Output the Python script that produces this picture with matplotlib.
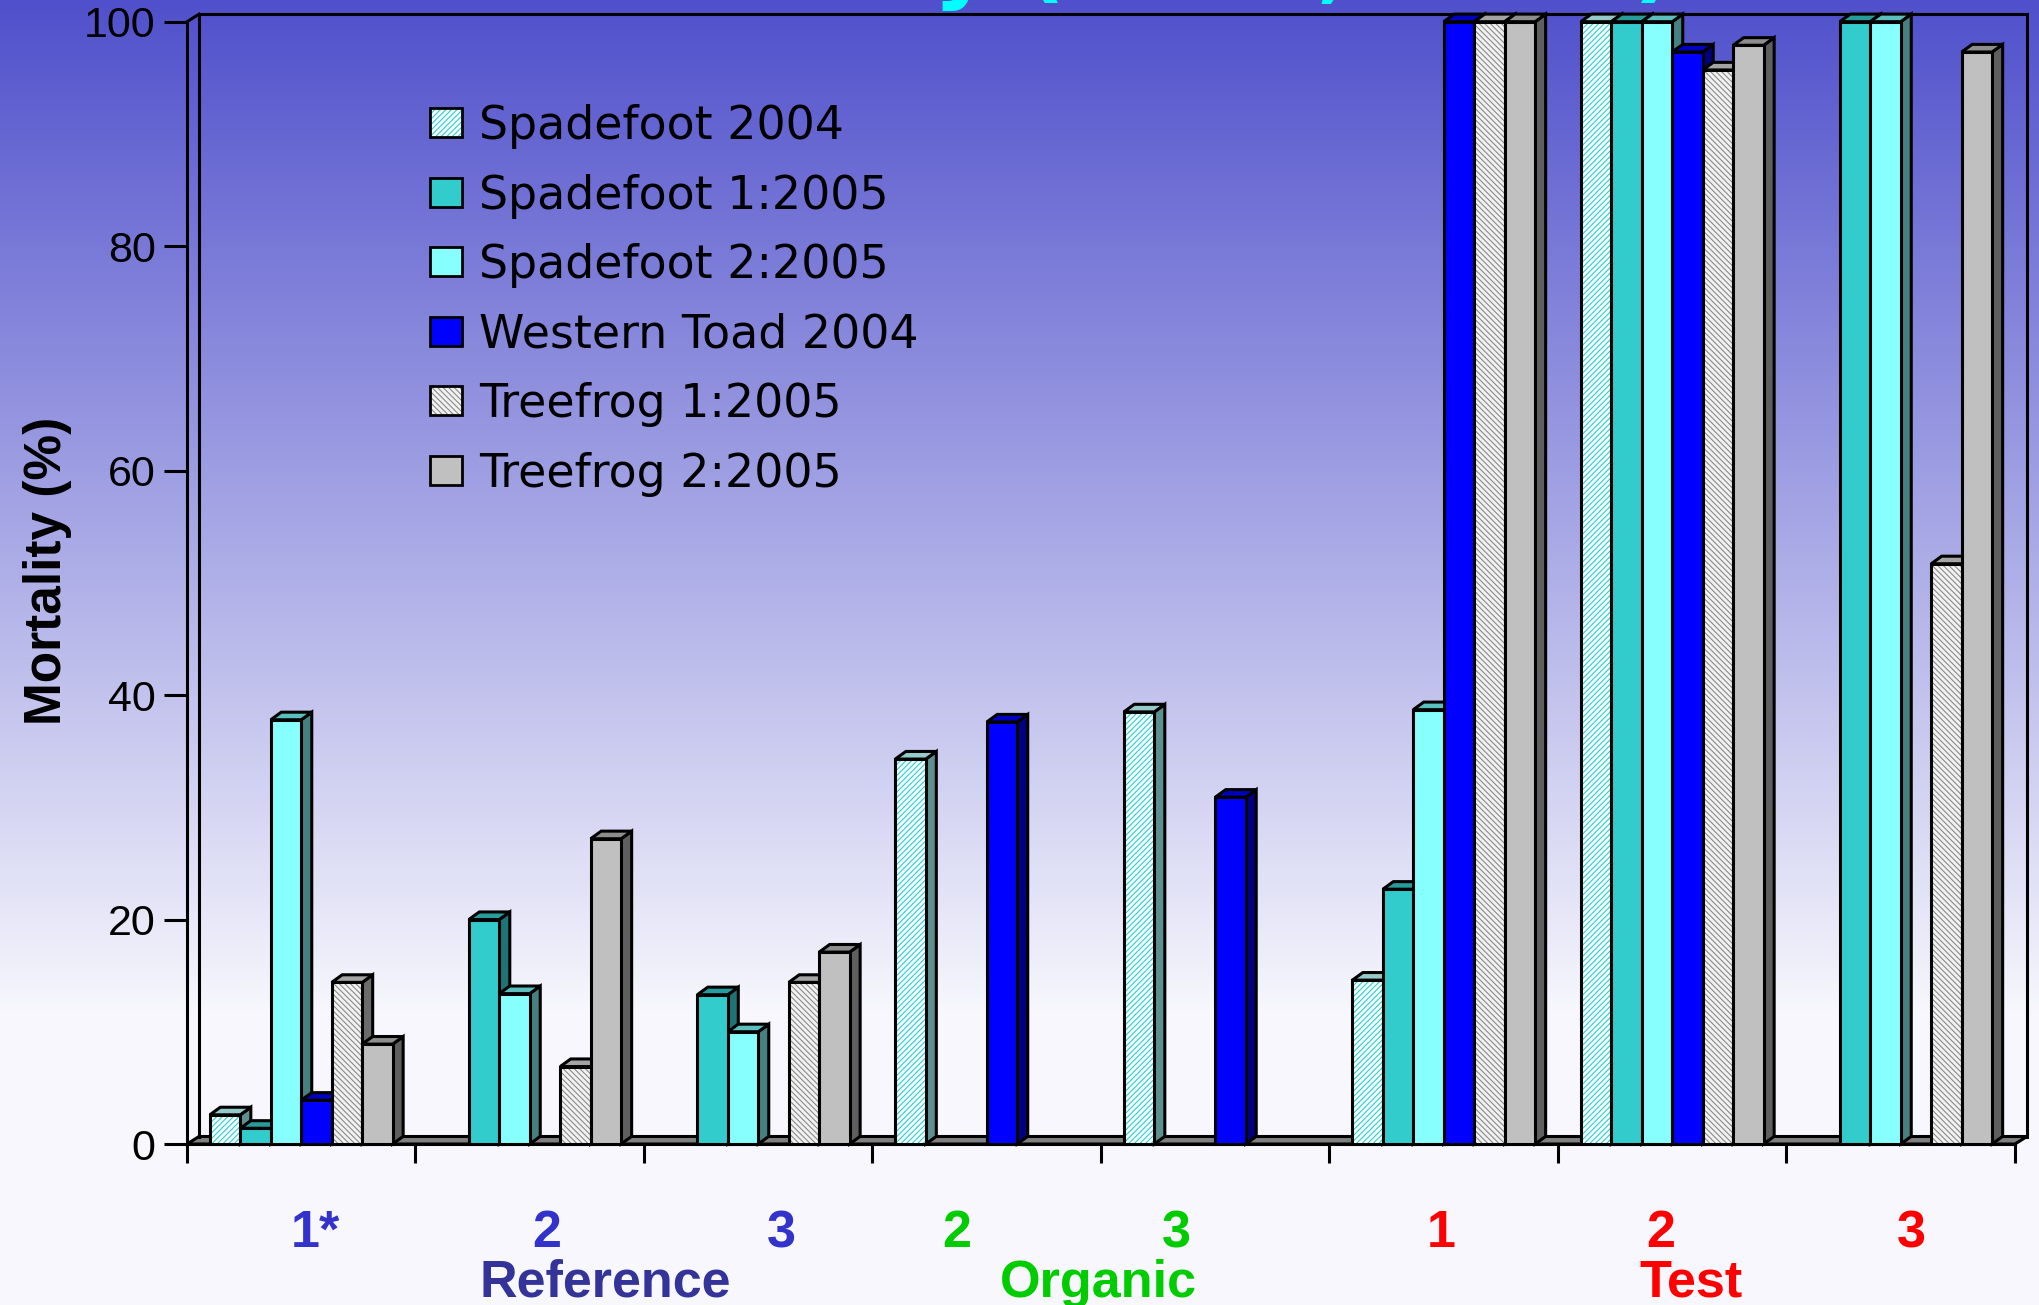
import numpy as np
import matplotlib
matplotlib.use("Agg")
import matplotlib.pyplot as plt
from matplotlib.patches import Polygon, Patch
from matplotlib.font_manager import FontProperties
from matplotlib.legend_handler import HandlerTuple

# ---------------- data ----------------
sites = ["1*", "2", "3", "2", "3", "1", "2", "3"]
site_types = ["Reference", "Organic", "Test"]
site_type_of = [0, 0, 0, 1, 1, 2, 2, 2]

series_names = ["Spadefoot 2004", "Spadefoot 1:2005", "Spadefoot 2:2005",
                "Western Toad 2004", "Treefrog 1:2005", "Treefrog 2:2005"]
spadefoot_2004 = [2.6, 0, 0, 34.3, 38.5, 14.6, 100, 0]
spadefoot_1_2005 = [1.4, 20.0, 13.3, 0, 0, 22.7, 100, 100]
spadefoot_2_2005 = [37.8, 13.4, 10.0, 0, 0, 38.7, 100, 100]
western_toad_2004 = [3.9, 0, 0, 37.6, 30.9, 100, 97.3, 0]
treefrog_1_2005 = [14.4, 6.9, 14.4, 0, 0, 100, 95.7, 51.7]
treefrog_2_2005 = [8.9, 27.2, 17.1, 0, 0, 100, 97.9, 97.3]
series = [spadefoot_2004, spadefoot_1_2005, spadefoot_2_2005,
          western_toad_2004, treefrog_1_2005, treefrog_2_2005]
yticks = [0, 20, 40, 60, 80, 100]

# ---------------- styles ----------------
styles = [
    dict(face="#F4FFFF", hatch="//////", hatch_color="#33CCCC", top="#96CACA", side="#5E9090"),
    dict(face="#33CCCC", hatch=None, top="#269C9C", side="#1E7474"),
    dict(face="#88FFFF", hatch=None, top="#5CBFBF", side="#468080"),
    dict(face="#0000FF", hatch=None, top="#0000C0", side="#000080"),
    dict(face="#F2F2F2", hatch="\\\\\\\\\\\\", hatch_color="#8A8A8A", top="#A4A4A4", side="#6C6C6C"),
    dict(face="#C0C0C0", hatch=None, top="#8E8E8E", side="#5F5F5F"),
]
label_offsets = [0.06, 0.075, 0.1, -0.13, -0.17, -0.01, -0.05, 0.045]
site_colors = ["#3333CC", "#3333CC", "#3333CC", "#00CC00", "#00CC00",
               "#FF0000", "#FF0000", "#FF0000"]
type_colors = ["#333399", "#00CC00", "#FF0000"]
type_label_x = [1.83, 3.99, 6.58]

plt.rcParams["font.family"] = ["Liberation Sans", "DejaVu Sans"]
plt.rcParams["hatch.linewidth"] = 0.8

W, H = 2040, 1305
fig = plt.figure(figsize=(W / 100, H / 100), dpi=100)

# slide background: vertical blue-to-white gradient
bg = fig.add_axes([0, 0, 1, 1], zorder=-10)
rows = np.arange(H)
t = np.clip(rows / 1010.0, 0, 1)[:, None]
c_top = np.array([80, 80, 204]) / 255.0
c_bot = np.array([247, 247, 253]) / 255.0
grad = c_top * (1 - t) + c_bot * t
bg.imshow(grad[:, None, :], aspect="auto", extent=[0, 1, 0, 1], origin="upper")
bg.axis("off")

# front plot area
L, R = 187 / W, 2015 / W
B, T = 1 - 1144 / H, 1 - 21.7 / H
ax = fig.add_axes([L, B, R - L, T - B])
ax.patch.set_alpha(0)
ngroups = len(sites)
ax.set_xlim(0, ngroups)
ax.set_ylim(0, 100)

ax_w_px = (R - L) * W
ax_h_px = (T - B) * H


def dx(px):
    return px / ax_w_px * ngroups


def dy(px):
    return px / ax_h_px * 100


# floor and back walls
wx, wy = dx(12), dy(7.5)
ax.add_patch(Polygon([(0, 0), (ngroups, 0), (ngroups + wx, wy), (wx, wy)], closed=True,
                     fc="#808080", ec="black", lw=2.2, zorder=1, clip_on=False,
                     joinstyle="miter"))
ax.plot([wx, wx, ngroups + wx, ngroups + wx], [wy, 100 + wy, 100 + wy, wy],
        color="black", lw=2.2, zorder=1, clip_on=False, solid_joinstyle="miter")
ax.plot([0, wx], [100, 100 + wy], color="black", lw=2.2, zorder=1, clip_on=False)

# 3-D bars
nser = len(series)
gap = 1.5
w = 1.0 / (nser + gap)
bx, by = dx(10.5), dy(7.6)
for k, (vals, st) in enumerate(zip(series, styles)):
    vals = np.asarray(vals, float)
    lefts = np.arange(ngroups) + (gap / 2 + k) * w
    m = vals > 0
    xs, hs = lefts[m], vals[m]
    zside, zfront = 2 + 2 * k, 3 + 2 * k
    for x0, h in zip(xs, hs):
        ax.add_patch(Polygon([(x0 + w, 0), (x0 + w + bx, by), (x0 + w + bx, h + by), (x0 + w, h)],
                             closed=True, fc=st["side"], ec="black", lw=2.2, zorder=zside,
                             clip_on=False))
        ax.add_patch(Polygon([(x0, h), (x0 + bx, h + by), (x0 + w + bx, h + by), (x0 + w, h)],
                             closed=True, fc=st["top"], ec="black", lw=2.2, zorder=zside,
                             clip_on=False))
    if st["hatch"]:
        ax.bar(xs, hs, width=w, align="edge", color=st["face"], edgecolor=st["hatch_color"],
               hatch=st["hatch"], linewidth=0, zorder=zfront, clip_on=False)
        ax.bar(xs, hs, width=w, align="edge", fill=False, edgecolor="black",
               linewidth=2.2, zorder=zfront, clip_on=False)
    else:
        ax.bar(xs, hs, width=w, align="edge", color=st["face"], edgecolor="black",
               linewidth=2.2, zorder=zfront, clip_on=False)

# axes, ticks
for s in ["top", "right"]:
    ax.spines[s].set_visible(False)
for s in ["left", "bottom"]:
    ax.spines[s].set_linewidth(2.2)
ax.set_yticks(yticks)
ax.tick_params(axis="y", direction="out", length=16.5, width=2.2, labelsize=31, pad=6,
               colors="black")
ax.set_xticks(range(ngroups + 1))
ax.set_xticklabels([])
ax.tick_params(axis="x", direction="out", length=13.7, width=2.2)

ax.set_ylabel("Mortality (%)", fontsize=37, fontweight="bold")
ax.yaxis.set_label_coords(-0.063, 0.511)

# site and site-type labels
xt = ax.get_xaxis_transform()
for i, (lab, col) in enumerate(zip(sites, site_colors)):
    ax.text(i + 0.5 + label_offsets[i], -0.0918, lab, transform=xt, ha="center",
            va="baseline", fontsize=37.5, fontweight="bold", color=col)
for name, col, xpos in zip(site_types, type_colors, type_label_x):
    ax.text(xpos, -0.1363, name, transform=xt, ha="center", va="baseline",
            fontsize=37.5, fontweight="bold", color=col)

# legend
handles = []
for st in styles:
    if st["hatch"]:
        handles.append((Patch(facecolor=st["face"], edgecolor=st["hatch_color"],
                              hatch=st["hatch"], lw=0),
                        Patch(facecolor="none", edgecolor="black", lw=2)))
    else:
        handles.append(Patch(facecolor=st["face"], edgecolor="black", lw=2))
ax.legend(handles, series_names, loc="upper left",
          bbox_to_anchor=(430 / W, 1 - 104 / H), bbox_transform=fig.transFigure,
          frameon=False, prop=FontProperties(family="DejaVu Sans", size=33),
          handlelength=0.7, handleheight=0.6, handletextpad=0.37, labelspacing=0.535,
          borderpad=0, borderaxespad=0, handler_map={tuple: HandlerTuple(ndivide=1)})

# slide title (runs off the top edge)
fig.text(1675 / W, 1 + 9 / H, "Toxicity (2004, 2005)", ha="right", va="baseline",
         fontsize=65, fontweight="bold", color="#00FFFF", family="DejaVu Sans")

fig.savefig("out.png", dpi=100)
